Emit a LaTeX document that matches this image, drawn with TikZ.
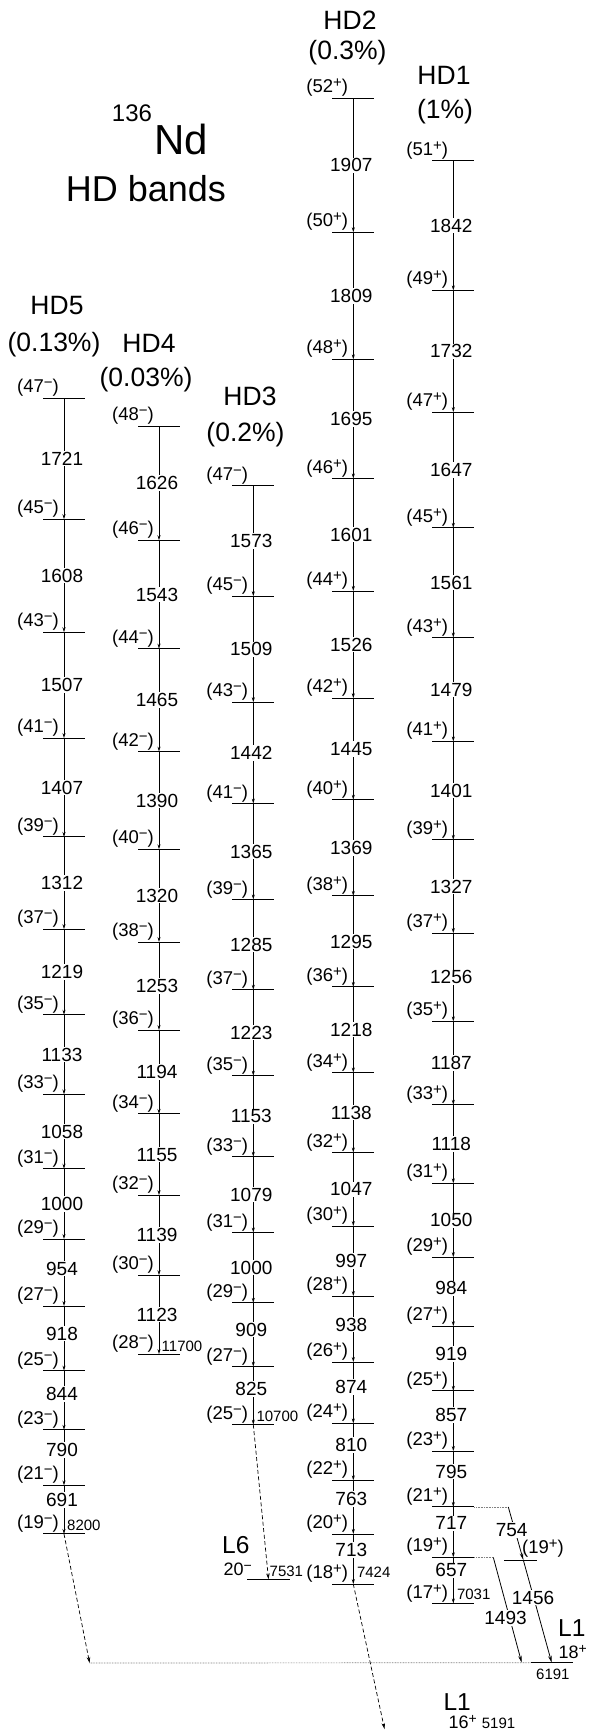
\documentclass[tikz,border=0pt]{standalone}
\usepackage{fontspec}
\setmainfont{Liberation Sans}
\usetikzlibrary{arrows.meta}
\newcommand\spsup[1]{\raisebox{5pt}{\fontsize{15}{15}\selectfont #1}}
\newcommand\spsupS[1]{\raisebox{5pt}{\fontsize{14}{14}\selectfont #1}}
\newcommand\spinlabel[2]{(#1\spsup{#2})}
\tikzset{
 lvl/.style={line width=1pt},
 tr/.style={line width=0.8pt,-{Stealth[length=5pt,width=3pt]}},
 elab/.style={fill=white,inner sep=1pt,font=\fontsize{19}{19}\selectfont},
 spinlbl/.style={anchor=base east,inner sep=0pt,font=\fontsize{18.5}{18.5}\selectfont},
 smalle/.style={anchor=base west,inner sep=0pt,font=\fontsize{15}{15}\selectfont},
 bandlbl/.style={anchor=base,inner sep=0pt,font=\fontsize{26.5}{26.5}\selectfont},
 biglbl/.style={anchor=base west,inner sep=0pt,font=\fontsize{24.5}{24.5}\selectfont},
 midlbl/.style={anchor=base west,inner sep=0pt,font=\fontsize{18}{18}\selectfont},
 dashedtr/.style={line width=0.7pt,dash pattern=on 4pt off 2.5pt,-{Stealth[length=6pt,width=3.5pt]}},
 dottedln/.style={line width=0.7pt,gray,dash pattern=on 0.8pt off 0.8pt},
 sidetr/.style={line width=0.8pt,-{Stealth[length=7pt,width=3.5pt]}},
}
\newcommand\drawband[6]{%
  \coordinate (#1-0) at (#2,#3);
  \draw[lvl] (#2-21,#3) -- (#2+21,#3);
  \node[spinlbl] (#1-s0) at (#2-5,#3-5.5) {\spinlabel{#4}{#5}};
  \xdef\ycur{#3}%
  \foreach \E/\J [count=\i] in {#6} {%
    \pgfmathsetmacro\g{\E*0.07026}%
    \pgfmathsetmacro\ynew{\ycur+\g}%
    \pgfmathsetmacro\off{(\g<70)*min(10,5+(64-\g)*0.3)}%
    \pgfmathsetmacro\ymid{(\ycur+\ynew)/2-\off}%
    \pgfmathtruncatemacro\ip{\i-1}%
    \coordinate (#1-\i) at (#2,\ynew);
    \draw[lvl] (#2-21,\ynew) -- (#2+21,\ynew);
    \draw[tr] (#1-\ip) -- (#1-\i);
    \node[elab] (#1-e\i) at (#2-2,\ymid) {\E};
    \node[spinlbl] (#1-s\i) at (#2-5,\ynew-5.5) {\spinlabel{\J}{#5}};
    \xdef\ycur{\ynew}%
  }%
}
\begin{document}
\begin{tikzpicture}[x=1pt,y=-1pt]
\useasboundingbox (0,0) rectangle (590,1731);
\fill[white] (0,0) rectangle (590,1731);
% title
\node[anchor=base,inner sep=0pt,font=\fontsize{24}{24}\selectfont] (t136) at (132,121.7) {136};
\node[anchor=base,inner sep=0pt,font=\fontsize{42}{42}\selectfont] (tNd) at (181.5,155) {Nd};
\node[anchor=base,inner sep=0pt,font=\fontsize{36}{36}\selectfont] (tHD) at (146,201.7) {HD bands};
% band labels
\node[bandlbl] (n5) at (57,314) {HD5};
\node[bandlbl] (p5) at (54,351.7) {(0.13\%)};
\node[bandlbl] (n4) at (149,352) {HD4};
\node[bandlbl] (p4) at (146,386) {(0.03\%)};
\node[bandlbl] (n3) at (250,405) {HD3};
\node[bandlbl] (p3) at (245.5,441.7) {(0.2\%)};
\node[bandlbl] (n2) at (350,30) {HD2};
\node[bandlbl] (p2) at (347.5,59.7) {(0.3\%)};
\node[bandlbl] (n1) at (444,85) {HD1};
\node[bandlbl] (p1) at (445,118.7) {(1\%)};
% bands
\drawband{hd5}{64}{398.3}{47}{−}{1721/45,1608/43,1507/41,1407/39,1312/37,1219/35,1133/33,1058/31,1000/29,954/27,918/25,844/23,790/21,691/19}
\drawband{hd4}{159}{426}{48}{−}{1626/46,1543/44,1465/42,1390/40,1320/38,1253/36,1194/34,1155/32,1139/30,1123/28}
\drawband{hd3}{253.3}{485.7}{47}{−}{1573/45,1509/43,1442/41,1365/39,1285/37,1223/35,1153/33,1079/31,1000/29,909/27,825/25}
\drawband{hd2}{353.3}{98.3}{52}{+}{1907/50,1809/48,1695/46,1601/44,1526/42,1445/40,1369/38,1295/36,1218/34,1138/32,1047/30,997/28,938/26,874/24,810/22,763/20,713/18}
\drawband{hd1}{453.3}{161}{51}{+}{1842/49,1732/47,1647/45,1561/43,1479/41,1401/39,1327/37,1256/35,1187/33,1118/31,1050/29,984/27,919/25,857/23,795/21,717/19,657/17}
% band-head energies
\node[smalle] (x5) at ([xshift=3pt,yshift=3.5pt]hd5-14) {8200};
\node[smalle] (x4) at ([xshift=2.5pt,yshift=2.5pt]hd4-10) {11700};
\node[smalle] (x3) at ([xshift=3pt,yshift=3.5pt]hd3-11) {10700};
\node[smalle] (x2) at ([xshift=3.5pt,yshift=7pt]hd2-17) {7424};
\node[smalle] (x1) at ([xshift=3.5pt,yshift=4pt]hd1-17) {7031};
% L6
\coordinate (L6w) at (247,1579.3);
\coordinate (L6e) at (290,1579.3);
\coordinate (L6t) at (268.5,1579.3);
\draw[lvl] (L6w) -- (L6e);
\draw[dashedtr] (hd3-11) -- (L6t);
\node[biglbl] (L6n) at (222,1553) {L6};
\node[midlbl] (L6j) at (223.4,1575) {20\spsupS{−}};
\node[smalle] (L6x) at (269.5,1576) {7531};
% L1 18+
\coordinate (j5) at (89.6,1663);
\coordinate (L1w) at (530.7,1662.7);
\coordinate (L1e) at (573.3,1662.7);
\coordinate (L1a) at (551.7,1662.7);
\coordinate (L1b) at (521.7,1662.7);
\draw[dottedln] (j5) -- (L1w);
\draw[lvl] (L1w) -- (L1e);
\draw[dashedtr] (hd5-14) -- (j5);
\node[biglbl] (L1n) at (558,1636.7) {L1};
\node[midlbl] (L1j) at (558.3,1658.3) {18\spsupS{+}};
\node[smalle] (L1x) at (536,1679) {6191};
% HD1 out-of-band decays
\coordinate (d21) at ([xshift=55pt]hd1-15);
\coordinate (d19) at ([xshift=40pt]hd1-16);
\draw[dottedln] ([xshift=21pt]hd1-15) -- (d21);
\draw[dottedln] ([xshift=21pt]hd1-16) -- (d19);
\coordinate (s19) at (523.3,1560);
\draw[lvl] ([xshift=-19pt]s19) -- ([xshift=13.4pt]s19);
\draw[sidetr] (d21) -- (s19);
\draw[sidetr] (s19) -- (L1a);
\draw[sidetr] (d19) -- (L1b);
\node[elab] (g754) at (511.7,1530) {754};
\node[elab] (g1456) at (533,1597.5) {1456};
\node[elab] (g1493) at (505.5,1618) {1493};
\node[spinlbl,anchor=base west] (s19l) at (522,1553) {\spinlabel{19}{+}};
% L1 16+
\coordinate (L1low) at (384.5,1729);
\draw[dashedtr] (hd2-17) -- (L1low);
\node[biglbl] (L1m) at (443.3,1710) {L1};
\node[midlbl] (L1k) at (448.3,1728.3) {16\spsupS{+}};
\node[smalle] (L1y) at (481.7,1728.3) {5191};
\end{tikzpicture}
\end{document}
